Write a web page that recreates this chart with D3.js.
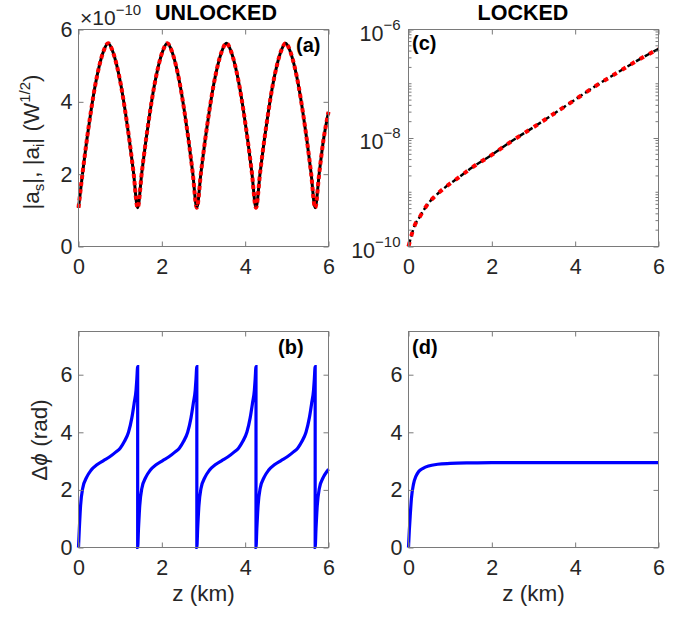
<!DOCTYPE html>
<html>
<head>
<meta charset="utf-8">
<script src="https://cdn.jsdelivr.net/npm/d3@7"></script>
<style>
  body { margin: 0; background: #fff; }
  text { font-family: "Liberation Sans", Arial, Helvetica, sans-serif; }
</style>
</head>
<body>
<div id="okvir"></div>
<script>
// tick values
const zTicks = [0, 2, 4, 6]
const linTicks = [0, 2, 4, 6]
const logTicks = [1e-10, 1e-8, 1e-6]

// (a) unlocked |a_s|, |a_i| in units of 1e-10 W^1/2
const zUnlockedAmp = [
  0, 0.1, 0.2, 0.3, 0.4, 0.5, 0.6, 0.71, 0.82, 0.92, 1.02, 1.12, 1.22, 1.32,
  1.42, 1.52, 1.62, 1.72, 1.82, 1.92, 2.02, 2.13, 2.24, 2.34, 2.44, 2.54, 2.64, 2.74,
  2.84, 2.94, 3.04, 3.14, 3.24, 3.34, 3.44, 3.55, 3.66, 3.76, 3.86, 3.96, 4.06, 4.16,
  4.26, 4.36, 4.46, 4.56, 4.66, 4.76, 4.86, 4.97, 5.08, 5.18, 5.28, 5.38, 5.48, 5.58,
  5.68, 5.78, 5.88, 6.0
]
const ampUnlocked = [
  1.07, 2.05, 2.95, 3.75, 4.45, 5.0, 5.4, 5.62, 5.4, 5.0, 4.45, 3.75, 2.95, 2.05,
  1.07, 2.05, 2.95, 3.75, 4.45, 5.0, 5.4, 5.62, 5.4, 5.0, 4.45, 3.75, 2.95, 2.05,
  1.07, 2.05, 2.95, 3.75, 4.45, 5.0, 5.4, 5.62, 5.4, 5.0, 4.45, 3.75, 2.95, 2.05,
  1.07, 2.05, 2.95, 3.75, 4.45, 5.0, 5.4, 5.62, 5.4, 5.0, 4.45, 3.75, 2.95, 2.05,
  1.07, 2.05, 2.95, 3.72
]

// (b) unlocked phase difference (rad)
const zUnlockedPhase = [
  0, 0.02, 0.05, 0.1, 0.2, 0.3, 0.45, 0.6, 0.75, 0.9, 1.0, 1.1, 1.2, 1.28, 1.34, 1.38, 1.4, 1.42,
  1.42, 1.44, 1.47, 1.52, 1.62, 1.72, 1.87, 2.02, 2.17, 2.32, 2.42, 2.52, 2.62, 2.7, 2.76, 2.8, 2.82, 2.84,
  2.84, 2.86, 2.89, 2.94, 3.04, 3.14, 3.29, 3.44, 3.59, 3.74, 3.84, 3.94, 4.04, 4.12, 4.18, 4.22, 4.24, 4.26,
  4.26, 4.28, 4.31, 4.36, 4.46, 4.56, 4.71, 4.86, 5.01, 5.16, 5.26, 5.36, 5.46, 5.54, 5.6, 5.64, 5.66, 5.68,
  5.68, 5.7, 5.73, 5.78, 5.88, 5.98, 6.0
]
const phaseUnlocked = [
  0, 0.65, 1.45, 2.05, 2.45, 2.68, 2.88, 3.02, 3.15, 3.32, 3.45, 3.68, 4.0, 4.5, 5.05, 5.45, 5.85, 6.28,
  0, 0.65, 1.45, 2.05, 2.45, 2.68, 2.88, 3.02, 3.15, 3.32, 3.45, 3.68, 4.0, 4.5, 5.05, 5.45, 5.85, 6.28,
  0, 0.65, 1.45, 2.05, 2.45, 2.68, 2.88, 3.02, 3.15, 3.32, 3.45, 3.68, 4.0, 4.5, 5.05, 5.45, 5.85, 6.28,
  0, 0.65, 1.45, 2.05, 2.45, 2.68, 2.88, 3.02, 3.15, 3.32, 3.45, 3.68, 4.0, 4.5, 5.05, 5.45, 5.85, 6.28,
  0, 0.65, 1.45, 2.05, 2.45, 2.68, 2.72
]

// (c) locked |a_s|, |a_i| (W^1/2)
const zLockedAmp = [0, 0.08, 0.16, 0.26, 0.36, 0.48, 0.64, 0.88, 1.2, 1.48, 2.0, 2.49, 3.0, 3.49, 4.0, 4.49, 5.0, 5.5, 6.0]
const ampLocked = [
  1e-10, 1.7e-10, 2.57e-10, 3.4e-10, 4.6e-10, 6.3e-10, 8.5e-10, 1.23e-9, 1.86e-9, 2.7e-9,
  4.9e-9, 8.9e-9, 1.58e-8, 2.8e-8, 5.1e-8, 9.1e-8, 1.58e-7, 2.7e-7, 4.4e-7
]

// (d) locked phase difference (rad)
const zLockedPhase = [0, 0.02, 0.04, 0.07, 0.12, 0.18, 0.24, 0.35, 0.48, 0.7, 1.0, 1.5, 2, 3, 4, 5, 6]
const phaseLocked = [0, 0.6, 1.07, 1.7, 2.2, 2.48, 2.63, 2.75, 2.83, 2.89, 2.92, 2.94, 2.95, 2.95, 2.95, 2.95, 2.95]

const boxColor = "#7a7a7a"
const textColor = "#262626"

const okvir = d3.select("#okvir")
  .append("svg")
  .attr("width", 690)
  .attr("height", 617)

okvir.append("rect").attr("width", 690).attr("height", 617).attr("fill", "#fff")

const panels = {
  a: { left: 78.5, top: 29.5, w: 250, h: 217 },
  c: { left: 408.5, top: 29.5, w: 250, h: 217 },
  b: { left: 78.5, top: 331.5, w: 250, h: 216 },
  d: { left: 408.5, top: 331.5, w: 250, h: 216 },
}

function styleAxis(g) {
  g.attr("font-family", null).attr("font-size", null)
  g.selectAll(".domain").remove()
  g.selectAll(".tick line").attr("stroke", boxColor)
  g.selectAll(".tick text").attr("fill", textColor).style("font-size", "21.5px")
}

function drawAxes(granice, dim, xSkala, ySkala, yTicks, isLog) {
  const fmt = d3.format("d")
  granice.append("g")
    .attr("transform", `translate(0,${dim.h})`)
    .call(d3.axisBottom(xSkala).tickValues(zTicks).tickFormat(fmt).tickSize(-5).tickSizeOuter(0).tickPadding(12))
    .call(styleAxis)
  granice.append("g")
    .call(d3.axisTop(xSkala).tickValues(zTicks).tickSize(-5).tickSizeOuter(0).tickFormat(""))
    .call(styleAxis)

  const yLeft = granice.append("g")
    .call(d3.axisLeft(ySkala).tickValues(yTicks).tickFormat(isLog ? null : fmt).tickSize(-5).tickSizeOuter(0).tickPadding(isLog ? 8 : 6))
    .call(styleAxis)
  granice.append("g")
    .attr("transform", `translate(${dim.w},0)`)
    .call(d3.axisRight(ySkala).tickValues(yTicks).tickSize(-5).tickSizeOuter(0).tickFormat(""))
    .call(styleAxis)

  if (isLog) {
    yLeft.selectAll(".tick text").each(function (d) {
      const t = d3.select(this).text("").attr("dy", "0.5em")
      t.append("tspan").text("10")
      t.append("tspan").attr("dy", -11).style("font-size", "15px").text("\u2212" + Math.round(-Math.log10(d)))
    })
    // minor ticks
    const minor = []
    for (let e = -10; e < -6; e++) {
      for (let m = 1; m < 10; m++) {
        const v = m * Math.pow(10, e)
        if (!(m === 1 && (e === -10 || e === -8))) minor.push(v)
      }
    }
    granice.append("g").selectAll("line").data(minor).join("line")
      .attr("x1", 0).attr("x2", 3)
      .attr("y1", d => ySkala(d)).attr("y2", d => ySkala(d))
      .attr("stroke", boxColor)
    granice.append("g").selectAll("line").data(minor).join("line")
      .attr("x1", dim.w - 3).attr("x2", dim.w)
      .attr("y1", d => ySkala(d)).attr("y2", d => ySkala(d))
      .attr("stroke", boxColor)
  }

  granice.append("rect")
    .attr("width", dim.w)
    .attr("height", dim.h)
    .attr("fill", "none")
    .attr("stroke", boxColor)
    .attr("stroke-width", 1)
}

function makeBounds(dim) {
  return okvir.append("g").attr("transform", `translate(${dim.left},${dim.top})`)
}

function panelLabel(granice, txt, x, y) {
  granice.append("text")
    .attr("x", x).attr("y", y)
    .attr("fill", "#000")
    .style("font-size", "20px")
    .style("font-weight", "bold")
    .text(txt)
}

// ---------- (a) ----------
{
  const dim = panels.a
  const granice = makeBounds(dim)
  const xSkala = d3.scaleLinear().domain([0, 6]).range([0, dim.w])
  const ySkala = d3.scaleLinear().domain([0, 6]).range([dim.h, 0])
  const podaci = zUnlockedAmp.map((z, i) => ({ z, v: ampUnlocked[i] }))
  const linija = d3.line().x(d => xSkala(d.z)).y(d => ySkala(d.v)).curve(d3.curveMonotoneX)
  granice.append("path").datum(podaci).attr("d", linija)
    .attr("fill", "none").attr("stroke", "#000").attr("stroke-width", 3)
  granice.append("path").datum(podaci).attr("d", linija)
    .attr("fill", "none").attr("stroke", "#ff0000").attr("stroke-width", 4)
    .attr("stroke-dasharray", "4,3.2")
  drawAxes(granice, dim, xSkala, ySkala, linTicks, false)
  panelLabel(granice, "(a)", 296 - dim.left, 52 - dim.top)

  // exponent label
  const eks = okvir.append("text").attr("x", 80).attr("y", 25).attr("fill", textColor).style("font-size", "21px")
  eks.append("tspan").text("\u00d710")
  eks.append("tspan").attr("dy", -10).style("font-size", "15px").text("\u221210")

  okvir.append("text").attr("x", 216).attr("y", 20).attr("text-anchor", "middle")
    .style("font-size", "21.5px").style("font-weight", "bold").text("UNLOCKED")

  const yl = okvir.append("text")
    .attr("transform", "translate(39,142) rotate(-90)")
    .attr("text-anchor", "middle")
    .attr("fill", textColor)
    .style("font-size", "22.5px")
  yl.append("tspan").text("|a")
  yl.append("tspan").attr("dy", 5).style("font-size", "15px").text("s")
  yl.append("tspan").attr("dy", -5).text("|, |a")
  yl.append("tspan").attr("dy", 5).style("font-size", "15px").text("i")
  yl.append("tspan").attr("dy", -5).text("| (W")
  yl.append("tspan").attr("dy", -9).style("font-size", "15px").text("1/2")
  yl.append("tspan").attr("dy", 9).text(")")
}

// ---------- (c) ----------
{
  const dim = panels.c
  const granice = makeBounds(dim)
  const xSkala = d3.scaleLinear().domain([0, 6]).range([0, dim.w])
  const ySkala = d3.scaleLog().domain([1e-10, 1e-6]).range([dim.h, 0])
  const podaci = zLockedAmp.map((z, i) => ({ z, v: ampLocked[i] }))
  const linija = d3.line().x(d => xSkala(d.z)).y(d => ySkala(d.v)).curve(d3.curveMonotoneX)
  granice.append("path").datum(podaci).attr("d", linija)
    .attr("fill", "none").attr("stroke", "#000").attr("stroke-width", 2.5)
    .attr("stroke-dasharray", "7,3")
  granice.append("path").datum(podaci).attr("d", linija)
    .attr("fill", "none").attr("stroke", "#ff0000").attr("stroke-width", 4)
    .attr("stroke-dasharray", "4.5,6")
  drawAxes(granice, dim, xSkala, ySkala, logTicks, true)
  panelLabel(granice, "(c)", 412 - dim.left, 50 - dim.top)

  okvir.append("text").attr("x", 523).attr("y", 20).attr("text-anchor", "middle")
    .style("font-size", "21.5px").style("font-weight", "bold").text("LOCKED")
}

// ---------- (b) ----------
{
  const dim = panels.b
  const granice = makeBounds(dim)
  const xSkala = d3.scaleLinear().domain([0, 6]).range([0, dim.w])
  const ySkala = d3.scaleLinear().domain([0, 7.5]).range([dim.h, 0])
  const podaci = zUnlockedPhase.map((z, i) => ({ z, v: phaseUnlocked[i] }))
  const linija = d3.line().x(d => xSkala(d.z)).y(d => ySkala(d.v)).curve(d3.curveMonotoneX)
  granice.append("path").datum(podaci).attr("d", linija)
    .attr("fill", "none").attr("stroke", "#0000ff").attr("stroke-width", 3.2)
  drawAxes(granice, dim, xSkala, ySkala, linTicks, false)
  panelLabel(granice, "(b)", 278 - dim.left, 354 - dim.top)

  const yl = okvir.append("text")
    .attr("transform", "translate(47,440) rotate(-90)")
    .attr("text-anchor", "middle")
    .attr("fill", textColor)
    .style("font-size", "22.5px")
  yl.append("tspan").text("\u0394")
  yl.append("tspan").style("font-style", "italic").text("\u03d5")
  yl.append("tspan").text(" (rad)")

  okvir.append("text").attr("x", dim.left + dim.w / 2).attr("y", 601).attr("text-anchor", "middle")
    .attr("fill", textColor).style("font-size", "22.5px").text("z (km)")
}

// ---------- (d) ----------
{
  const dim = panels.d
  const granice = makeBounds(dim)
  const xSkala = d3.scaleLinear().domain([0, 6]).range([0, dim.w])
  const ySkala = d3.scaleLinear().domain([0, 7.5]).range([dim.h, 0])
  const podaci = zLockedPhase.map((z, i) => ({ z, v: phaseLocked[i] }))
  const linija = d3.line().x(d => xSkala(d.z)).y(d => ySkala(d.v)).curve(d3.curveMonotoneX)
  granice.append("path").datum(podaci).attr("d", linija)
    .attr("fill", "none").attr("stroke", "#0000ff").attr("stroke-width", 3.2)
  drawAxes(granice, dim, xSkala, ySkala, linTicks, false)
  panelLabel(granice, "(d)", 412 - dim.left, 354 - dim.top)

  okvir.append("text").attr("x", dim.left + dim.w / 2).attr("y", 601).attr("text-anchor", "middle")
    .attr("fill", textColor).style("font-size", "22.5px").text("z (km)")
}
</script>
</body>
</html>
